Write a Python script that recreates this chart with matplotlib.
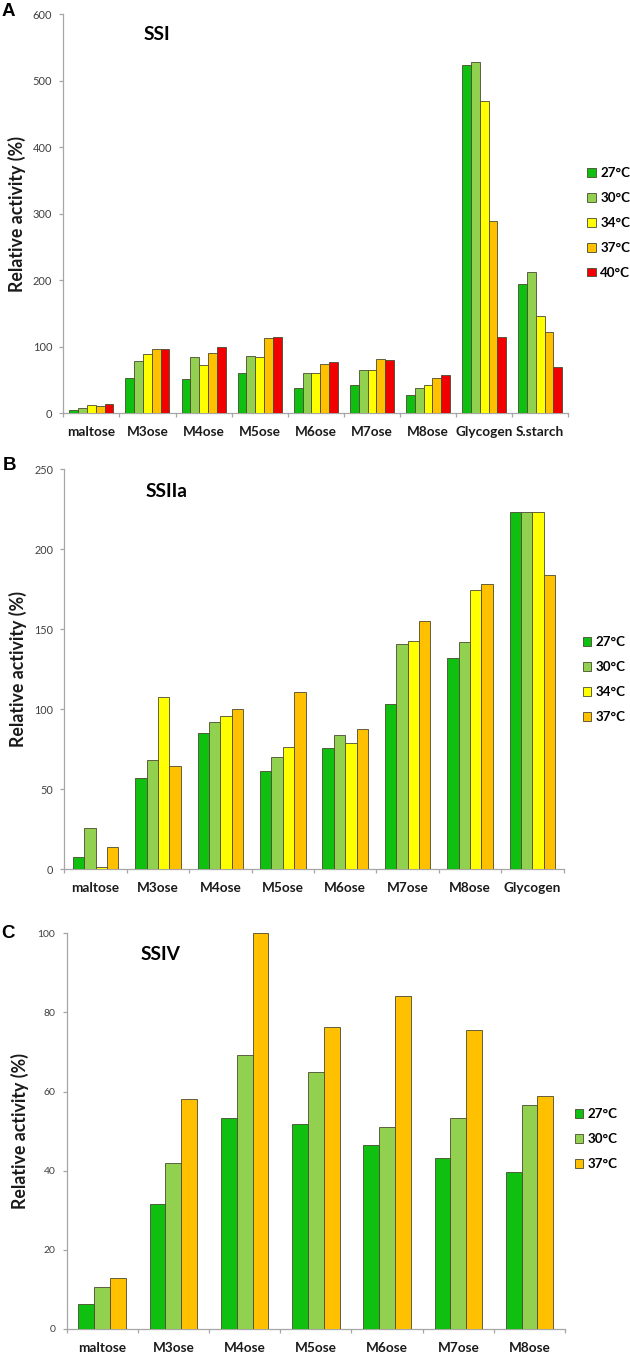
import matplotlib
matplotlib.use('Agg')
import matplotlib.pyplot as plt
import numpy as np

# ---------------- data ----------------
cats_ssi = ['maltose', 'M3ose', 'M4ose', 'M5ose', 'M6ose', 'M7ose', 'M8ose', 'Glycogen', 'S.starch']
temps_ssi = ['27°C', '30°C', '34°C', '37°C', '40°C']
ssi_27 = [5, 53, 51, 60, 38.5, 42, 28, 523.5, 195]
ssi_30 = [7.5, 78, 84.5, 86, 60.5, 64.5, 38.5, 529, 212]
ssi_34 = [12.5, 89.5, 72.5, 84, 60.5, 65.5, 42.5, 469.5, 146]
ssi_37 = [11, 96, 91, 113, 74, 81.5, 53, 289.5, 122]
ssi_40 = [13.5, 96.5, 100, 115, 77.5, 79.5, 57, 115, 70]
ssi_yticks = [0, 100, 200, 300, 400, 500, 600]

cats_ssiia = ['maltose', 'M3ose', 'M4ose', 'M5ose', 'M6ose', 'M7ose', 'M8ose', 'Glycogen']
temps_ssiia = ['27°C', '30°C', '34°C', '37°C']
ssiia_27 = [7.3, 57, 85, 61.3, 75.6, 103.3, 131.7, 223.3]
ssiia_30 = [25.8, 68, 92, 70.2, 84, 140.6, 141.7, 223.3]
ssiia_34 = [1.2, 107.3, 95.8, 76, 79, 142.5, 174.8, 223.3]
ssiia_37 = [13.5, 64.6, 99.8, 110.4, 87.5, 155.2, 178.5, 183.8]
ssiia_yticks = [0, 50, 100, 150, 200, 250]

cats_ssiv = ['maltose', 'M3ose', 'M4ose', 'M5ose', 'M6ose', 'M7ose', 'M8ose']
temps_ssiv = ['27°C', '30°C', '37°C']
ssiv_27 = [6.4, 31.6, 53.3, 51.8, 46.6, 43.3, 39.8]
ssiv_30 = [10.5, 41.9, 69.3, 64.9, 51.1, 53.4, 56.7]
ssiv_37 = [13.0, 58.2, 100, 76.2, 84.2, 75.5, 58.9]
ssiv_yticks = [0, 20, 40, 60, 80, 100]

# ---------------- style ----------------
W, H, DPI = 630, 1353, 100
COL = {'27°C': '#10C010', '30°C': '#92D050', '34°C': '#FFFF00',
       '37°C': '#FFC000', '40°C': '#F00000'}
EDGE = '#4a4a30'
SPINE = '#A6A6A6'
FONT = 'Lato'

fig = plt.figure(figsize=(W / DPI, H / DPI), dpi=DPI)
fig.patch.set_facecolor('white')


def px_axes(left, right, top, bottom):
    return fig.add_axes([left / W, 1 - bottom / H, (right - left) / W, (bottom - top) / H])


def panel(box, cats, temps, series, yticks, group_frac, letter, letter_xy,
          title, title_xy, leg_left, leg_cy, ylab_right, tick_fs):
    left, right, top, bottom = box
    ax = px_axes(left, right, top, bottom)
    n = len(temps)
    x = np.arange(len(cats))
    bw = group_frac / n
    for i, (t, vals) in enumerate(zip(temps, series)):
        ax.bar(x - group_frac / 2 + bw * (i + 0.5), vals, width=bw, color=COL[t],
               edgecolor=EDGE, linewidth=0.6, label=t, zorder=3)
    ax.set_xlim(-0.5, len(cats) - 0.5)
    ax.set_ylim(yticks[0], yticks[-1])
    ax.set_yticks(yticks)
    ax.set_yticklabels([str(v) for v in yticks], fontsize=tick_fs, color='#404040',
                       family=FONT)
    # category boundary ticks (major) and labels (minor)
    ax.set_xticks(np.arange(len(cats) + 1) - 0.5)
    ax.set_xticklabels([])
    ax.set_xticks(x, minor=True)
    ax.set_xticklabels(cats, minor=True, fontsize=9.8, fontweight='bold',
                       family=FONT, color='#1a1a1a')
    ax.tick_params(axis='x', which='major', length=3, color=SPINE, width=0.9)
    ax.tick_params(axis='x', which='minor', length=0, pad=9)
    ax.tick_params(axis='y', length=3, color=SPINE, width=0.9, pad=5)
    for s in ['top', 'right']:
        ax.spines[s].set_visible(False)
    for s in ['left', 'bottom']:
        ax.spines[s].set_color(SPINE)
        ax.spines[s].set_linewidth(0.9)
    ax.set_ylabel('Relative activity (%)', fontsize=12.8, fontweight='bold',
                  family=FONT, color='#1a1a1a')
    ax.yaxis.set_label_coords((ylab_right - left) / (right - left), 0.5)
    fig.text(letter_xy[0] / W, 1 - letter_xy[1] / H, letter, fontsize=13.5,
             fontweight='bold', family='Liberation Sans', ha='left', va='center')
    fig.text(title_xy[0] / W, 1 - title_xy[1] / H, title, fontsize=13.8,
             fontweight='bold', family=FONT, ha='left', va='center')
    ax.legend(loc='center left', bbox_to_anchor=(leg_left / W, 1 - leg_cy / H),
              bbox_transform=fig.transFigure, frameon=False, borderpad=0,
              borderaxespad=0, handlelength=0.62, handleheight=0.62,
              handletextpad=0.35, labelspacing=0.97,
              prop={'family': FONT, 'weight': 'bold', 'size': 9.6})
    return ax


panel((63.3, 568.3, 14.3, 413.3), cats_ssi, temps_ssi,
      [ssi_27, ssi_30, ssi_34, ssi_37, ssi_40], ssi_yticks, 0.785,
      'A', (1.5, 11.7), 'SSI', (143.4, 34.3), 587.4, 223, 26.5, 8)

panel((64.3, 563.7, 469.3, 869), cats_ssiia, temps_ssiia,
      [ssiia_27, ssiia_30, ssiia_34, ssiia_37], ssiia_yticks, 0.732,
      'B', (2.5, 465), 'SSIIa', (145.8, 491.7), 582.6, 679.5, 27.5, 7.8)

panel((66.5, 565.2, 933.3, 1329), cats_ssiv, temps_ssiv,
      [ssiv_27, ssiv_30, ssiv_37], ssiv_yticks, 0.665,
      'C', (1.5, 933), 'SSIV', (140.6, 954.3), 574.5, 1139.2, 29, 7.5)

fig.savefig('out.png', dpi=DPI, facecolor='white')
